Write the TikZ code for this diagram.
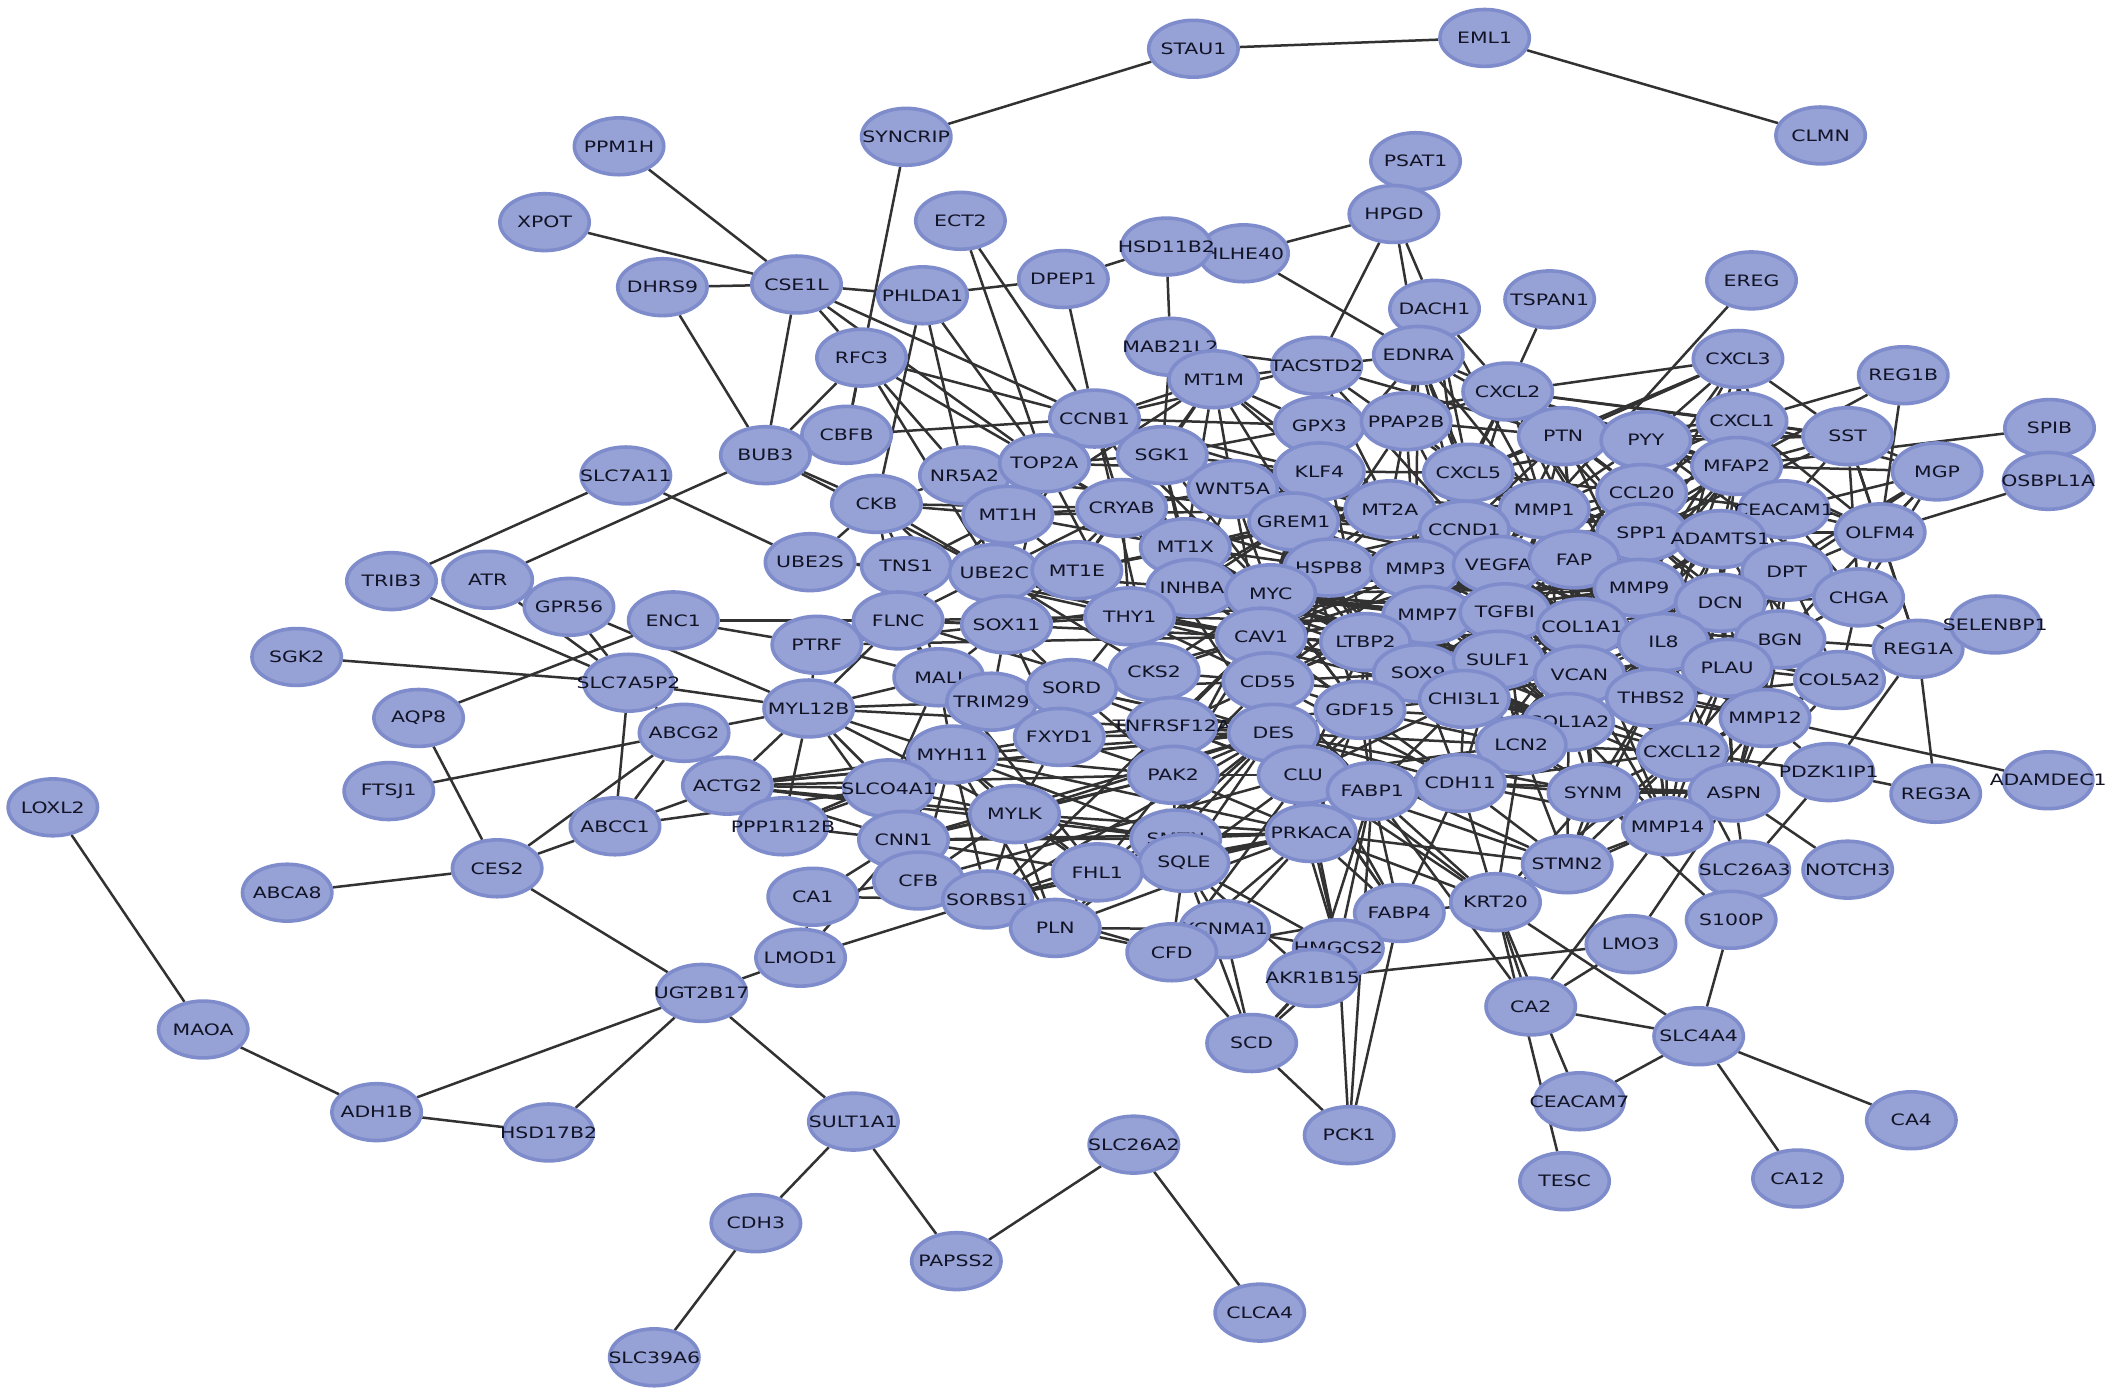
\documentclass[tikz,border=0pt]{standalone}
\usepackage{fontspec}
\newfontfamily\genefont[FakeStretch=1.3]{DejaVu Sans}
\usetikzlibrary{shapes.geometric, backgrounds}
\definecolor{genefill}{RGB}{150,161,213}
\definecolor{generim}{RGB}{126,140,204}
\definecolor{genetext}{RGB}{18,20,38}
\definecolor{linkgray}{RGB}{50,50,50}

\begin{document}
\begin{tikzpicture}[x=0.02cm, y=-0.02cm,
  gene/.style={ellipse, draw=generim, fill=genefill, line width=1.5pt,
    minimum width=1.32cm, minimum height=0.84cm, inner sep=0pt,
    text=genetext, font={\genefont\fontsize{6.6}{7}\selectfont},
    execute at begin node={\hbox to 0pt\bgroup\hss},
    execute at end node={\hss\egroup}},
  link/.style={color=linkgray, line width=1.05pt}]
  \useasboundingbox (0,0) rectangle (1568,1030);

  % top
  \node[gene] (STAU1) at (881,36) {STAU1};
  \node[gene] (EML1) at (1096,28) {EML1};
  \node[gene] (CLMN) at (1344,100) {CLMN};
  \node[gene] (SYNCRIP) at (669,101) {SYNCRIP};
  \node[gene] (PPM1H) at (457,108) {PPM1H};
  \node[gene] (PSAT1) at (1045,119) {PSAT1};
  \node[gene] (XPOT) at (402,164) {XPOT};
  \node[gene] (ECT2) at (709,163) {ECT2};
  \node[gene] (HPGD) at (1029,158) {HPGD};
  \node[gene] (HLHE40) at (918,187) {HLHE40};
  \node[gene] (HSD11B2) at (861,182) {HSD11B2};
  \node[gene] (DPEP1) at (785,206) {DPEP1};
  \node[gene] (CSE1L) at (588,210) {CSE1L};
  \node[gene] (DHRS9) at (489,212) {DHRS9};
  \node[gene] (PHLDA1) at (681,218) {PHLDA1};
  \node[gene] (EREG) at (1293,207) {EREG};
  \node[gene] (TSPAN1) at (1144,221) {TSPAN1};
  \node[gene] (DACH1) at (1059,228) {DACH1};
  \node[gene] (RFC3) at (636,264) {RFC3};
  \node[gene] (MAB21L2) at (864,256) {MAB21L2};
  \node[gene] (EDNRA) at (1047,262) {EDNRA};
  \node[gene] (TACSTD2) at (972,270) {TACSTD2};
  \node[gene] (CXCL3) at (1283,265) {CXCL3};
  \node[gene] (REG1B) at (1405,277) {REG1B};
  \node[gene] (MT1M) at (896,280) {MT1M};
  \node[gene] (CXCL2) at (1113,289) {CXCL2};
  \node[gene] (CCNB1) at (808,309) {CCNB1};
  \node[gene] (GPX3) at (974,314) {GPX3};
  \node[gene] (PPAP2B) at (1038,311) {PPAP2B};
  \node[gene] (CXCL1) at (1286,311) {CXCL1};
  \node[gene] (PTN) at (1154,322) {PTN};
  \node[gene] (PYY) at (1215,325) {PYY};
  \node[gene] (SST) at (1364,322) {SST};
  \node[gene] (SPIB) at (1513,316) {SPIB};
  \node[gene] (CBFB) at (625,321) {CBFB};
  \node[gene] (BUB3) at (565,336) {BUB3};
  \node[gene] (SGK1) at (858,336) {SGK1};
  \node[gene] (NR5A2) at (712,351) {NR5A2};
  \node[gene] (TOP2A) at (771,342) {TOP2A};
  \node[gene] (KLF4) at (974,348) {KLF4};
  \node[gene] (CXCL5) at (1084,349) {CXCL5};
  \node[gene] (MFAP2) at (1282,344) {MFAP2};
  \node[gene] (MGP) at (1430,348) {MGP};
  \node[gene] (OSBPL1A) at (1512,355) {OSBPL1A};
  \node[gene] (SLC7A11) at (462,351) {SLC7A11};
  \node[gene] (CKB) at (647,372) {CKB};
  \node[gene] (MT1H) at (744,380) {MT1H};
  \node[gene] (CRYAB) at (828,375) {CRYAB};
  \node[gene] (WNT5A) at (910,361) {WNT5A};
  \node[gene] (GREM1) at (955,385) {GREM1};
  \node[gene] (MT2A) at (1026,376) {MT2A};
  \node[gene] (CCL20) at (1212,364) {CCL20};
  \node[gene] (MMP1) at (1140,376) {MMP1};
  \node[gene] (CEACAM1) at (1317,376) {CEACAM1};
  \node[gene] (CCND1) at (1081,391) {CCND1};
  \node[gene] (SPP1) at (1212,393) {SPP1};
  \node[gene] (ADAMTS1) at (1270,398) {ADAMTS1};
  \node[gene] (OLFM4) at (1388,393) {OLFM4};

  % middle
  \node[gene] (UBE2S) at (598,415) {UBE2S};
  \node[gene] (TNS1) at (669,418) {TNS1};
  \node[gene] (UBE2C) at (734,423) {UBE2C};
  \node[gene] (MT1E) at (795,421) {MT1E};
  \node[gene] (MT1X) at (875,404) {MT1X};
  \node[gene] (HSPB8) at (981,419) {HSPB8};
  \node[gene] (MMP3) at (1045,420) {MMP3};
  \node[gene] (VEGFA) at (1106,417) {VEGFA};
  \node[gene] (FAP) at (1162,413) {FAP};
  \node[gene] (DPT) at (1319,422) {DPT};
  \node[gene] (MMP9) at (1210,434) {MMP9};
  \node[gene] (DCN) at (1270,445) {DCN};
  \node[gene] (CHGA) at (1372,441) {CHGA};
  \node[gene] (TRIB3) at (289,429) {TRIB3};
  \node[gene] (ATR) at (360,428) {ATR};
  \node[gene] (GPR56) at (420,448) {GPR56};
  \node[gene] (ENC1) at (497,458) {ENC1};
  \node[gene] (INHBA) at (880,434) {INHBA};
  \node[gene] (MYC) at (938,438) {MYC};
  \node[gene] (MMP7) at (1054,454) {MMP7};
  \node[gene] (TGFBI) at (1111,452) {TGFBI};
  \node[gene] (COL1A1) at (1168,463) {COL1A1};
  \node[gene] (IL8) at (1228,474) {IL8};
  \node[gene] (BGN) at (1314,472) {BGN};
  \node[gene] (FLNC) at (663,458) {FLNC};
  \node[gene] (SOX11) at (743,461) {SOX11};
  \node[gene] (THY1) at (834,455) {THY1};
  \node[gene] (CAV1) at (931,470) {CAV1};
  \node[gene] (LTBP2) at (1008,474) {LTBP2};
  \node[gene] (PTRF) at (603,476) {PTRF};
  \node[gene] (REG1A) at (1416,479) {REG1A};
  \node[gene] (SELENBP1) at (1473,461) {SELENBP1};
  \node[gene] (SGK2) at (219,485) {SGK2};
  \node[gene] (SLC7A5P2) at (464,504) {SLC7A5P2};
  \node[gene] (MALI) at (693,500) {MALI};
  \node[gene] (CKS2) at (852,496) {CKS2};
  \node[gene] (CD55) at (936,503) {CD55};
  \node[gene] (SOX9) at (1047,497) {SOX9};
  \node[gene] (SULF1) at (1106,487) {SULF1};
  \node[gene] (VCAN) at (1166,498) {VCAN};
  \node[gene] (PLAU) at (1275,493) {PLAU};
  \node[gene] (COL5A2) at (1358,502) {COL5A2};
  \node[gene] (TRIM29) at (732,518) {TRIM29};
  \node[gene] (SORD) at (791,508) {SORD};
  \node[gene] (AQP8) at (309,530) {AQP8};
  \node[gene] (ABCG2) at (505,541) {ABCG2};
  \node[gene] (MYL12B) at (597,523) {MYL12B};
  \node[gene] (GDF15) at (1004,524) {GDF15};
  \node[gene] (CHI3L1) at (1081,516) {CHI3L1};
  \node[gene] (THBS2) at (1219,515) {THBS2};
  \node[gene] (MMP12) at (1303,530) {MMP12};
  \node[gene] (TNFRSF12A) at (865,536) {TNFRSF12A};
  \node[gene] (DES) at (940,541) {DES};
  \node[gene] (FXYD1) at (782,544) {FXYD1};
  \node[gene] (COL1A2) at (1158,533) {COL1A2};
  \node[gene] (LCN2) at (1123,550) {LCN2};
  \node[gene] (CXCL12) at (1242,555) {CXCL12};
  \node[gene] (MYH11) at (703,557) {MYH11};
  \node[gene] (ACTG2) at (537,580) {ACTG2};
  \node[gene] (SLCO4A1) at (656,582) {SLCO4A1};
  \node[gene] (PAK2) at (866,572) {PAK2};
  \node[gene] (CLU) at (962,572) {CLU};
  \node[gene] (FABP1) at (1013,584) {FABP1};
  \node[gene] (CDH11) at (1078,578) {CDH11};
  \node[gene] (SYNM) at (1176,585) {SYNM};
  \node[gene] (ASPN) at (1280,585) {ASPN};
  \node[gene] (PDZK1IP1) at (1350,570) {PDZK1IP1};
  \node[gene] (REG3A) at (1429,586) {REG3A};
  \node[gene] (ADAMDEC1) at (1512,576) {ADAMDEC1};
  \node[gene] (FTSJ1) at (287,584) {FTSJ1};
  \node[gene] (LOXL2) at (39,596) {LOXL2};
  \node[gene] (ABCC1) at (454,610) {ABCC1};
  \node[gene] (PPP1R12B) at (578,610) {PPP1R12B};
  \node[gene] (MYLK) at (749,601) {MYLK};
  \node[gene] (CNN1) at (667,620) {CNN1};
  \node[gene] (SMTN) at (868,619) {SMTN};
  \node[gene] (SQLE) at (874,637) {SQLE};
  \node[gene] (PRKACA) at (968,615) {PRKACA};
  \node[gene] (MMP14) at (1231,610) {MMP14};
  \node[gene] (STMN2) at (1157,638) {STMN2};
  \node[gene] (FHL1) at (810,644) {FHL1};
  \node[gene] (CES2) at (367,641) {CES2};
  \node[gene] (ABCA8) at (212,659) {ABCA8};
  \node[gene] (CA1) at (600,662) {CA1};
  \node[gene] (CFB) at (678,650) {CFB};
  \node[gene] (SORBS1) at (729,664) {SORBS1};
  \node[gene] (SLC26A3) at (1288,642) {SLC26A3};
  \node[gene] (NOTCH3) at (1364,642) {NOTCH3};

  % bottom
  \node[gene] (FABP4) at (1033,674) {FABP4};
  \node[gene] (KRT20) at (1104,666) {KRT20};
  \node[gene] (S100P) at (1278,679) {S100P};
  \node[gene] (PLN) at (779,685) {PLN};
  \node[gene] (KCNMA1) at (904,686) {KCNMA1};
  \node[gene] (CFD) at (865,703) {CFD};
  \node[gene] (HMGCS2) at (988,700) {HMGCS2};
  \node[gene] (AKR1B15) at (969,722) {AKR1B15};
  \node[gene] (LMO3) at (1204,697) {LMO3};
  \node[gene] (LMOD1) at (591,707) {LMOD1};
  \node[gene] (UGT2B17) at (518,733) {UGT2B17};
  \node[gene] (CA2) at (1130,743) {CA2};
  \node[gene] (SLC4A4) at (1254,765) {SLC4A4};
  \node[gene] (MAOA) at (150,760) {MAOA};
  \node[gene] (SCD) at (924,770) {SCD};
  \node[gene] (ADH1B) at (278,821) {ADH1B};
  \node[gene] (HSD17B2) at (405,836) {HSD17B2};
  \node[gene] (SULT1A1) at (630,828) {SULT1A1};
  \node[gene] (CEACAM7) at (1166,813) {CEACAM7};
  \node[gene] (CA4) at (1411,827) {CA4};
  \node[gene] (PCK1) at (996,838) {PCK1};
  \node[gene] (SLC26A2) at (837,845) {SLC26A2};
  \node[gene] (CA12) at (1327,870) {CA12};
  \node[gene] (TESC) at (1155,872) {TESC};
  \node[gene] (CDH3) at (558,903) {CDH3};
  \node[gene] (PAPSS2) at (706,931) {PAPSS2};
  \node[gene] (CLCA4) at (930,969) {CLCA4};
  \node[gene] (SLC39A6) at (483,1002) {SLC39A6};

  \begin{scope}[on background layer]
    \fill[white] (0,0) rectangle (1568,1030);

    % outer chains
    \draw[link] (STAU1) edge (EML1) edge (SYNCRIP);
    \draw[link] (EML1) edge (CLMN);
    \draw[link] (SYNCRIP) edge (CBFB);
    \draw[link] (CSE1L) edge (PPM1H) edge (XPOT) edge (DHRS9) edge (PHLDA1) edge (BUB3) edge (RFC3) edge (CCNB1) edge (TOP2A);
    \draw[link] (DHRS9) edge (BUB3);
    \draw[link] (DPEP1) edge (PHLDA1) edge (HSD11B2) edge (CCNB1);
    \draw[link] (HLHE40) edge (HPGD) edge (EDNRA) edge (HSD11B2);
    \draw[link] (MAB21L2) edge (HSD11B2) edge (SGK1) edge (TACSTD2);
    \draw[link] (HPGD) edge (PSAT1) edge (TACSTD2) edge (DACH1) edge (EDNRA);
    \draw[link] (ECT2) edge (TOP2A) edge (CCNB1);
    \draw[link] (PHLDA1) edge (CKB) edge (TOP2A) edge (NR5A2);
    \draw[link] (CXCL2) edge (TSPAN1) edge (CXCL3);
    \draw[link] (EREG) edge (MMP1);
    \draw[link] (REG1B) edge (CXCL1) edge (MFAP2) edge (OLFM4);
    \draw[link] (SPIB) edge (MFAP2);
    \draw[link] (OLFM4) edge (OSBPL1A) edge (REG1A);
    \draw[link] (SST) edge (CXCL3) edge (CHGA);
    \draw[link] (REG1A) edge (BGN) edge (PDZK1IP1) edge (REG3A) edge (COL5A2);
    \draw[link] (MMP12) edge (ADAMDEC1);
    \draw[link] (PDZK1IP1) edge (CXCL12) edge (REG3A) edge (SLC26A3);
    \draw[link] (ASPN) edge (NOTCH3) edge (SLC26A3) edge (LMO3);
    \draw[link] (S100P) edge (SLC26A3) edge (SYNM) edge (SLC4A4);
    \draw[link] (LMO3) edge (CA2) edge (AKR1B15);
    \draw[link] (KRT20) edge (CA2) edge (TESC) edge (CEACAM7) edge (SLC4A4);
    \draw[link] (SLC4A4) edge (CA2) edge (CEACAM7) edge (CA4) edge (CA12);
    \draw[link] (LMOD1) edge (UGT2B17) edge (CA1) edge (CNN1) edge (SORBS1);
    \draw[link] (UGT2B17) edge (SULT1A1) edge (CES2) edge (ADH1B) edge (HSD17B2);
    \draw[link] (SULT1A1) edge (CDH3) edge (PAPSS2);
    \draw[link] (PAPSS2) edge (SLC26A2);
    \draw[link] (SLC26A2) edge (CLCA4);
    \draw[link] (CDH3) edge (SLC39A6);
    \draw[link] (PLN) edge (CFD);
    \draw[link] (KCNMA1) edge (HMGCS2) edge (SCD);
    \draw[link] (SCD) edge (AKR1B15) edge (HMGCS2) edge (PCK1);
    \draw[link] (HMGCS2) edge (PCK1);
    \draw[link] (SLC7A11) edge (TRIB3) edge (UBE2S);
    \draw[link] (ATR) edge (BUB3) edge (SLC7A5P2);
    \draw[link] (GPR56) edge (SLC7A5P2) edge (MYL12B);
    \draw[link] (TRIB3) edge (SLC7A5P2);
    \draw[link] (ENC1) edge (AQP8) edge (FLNC) edge (PTRF);
    \draw[link] (SLC7A5P2) edge (SGK2) edge (MYL12B) edge (ABCC1) edge (ABCG2);
    \draw[link] (CES2) edge (AQP8) edge (ABCA8) edge (ABCC1) edge (ABCG2);
    \draw[link] (ABCG2) edge (FTSJ1) edge (ABCC1) edge (ACTG2) edge (MYL12B);
    \draw[link] (ABCC1) edge (ACTG2) edge (SLCO4A1);
    \draw[link] (MAOA) edge (LOXL2) edge (ADH1B);
    \draw[link] (ADH1B) edge (HSD17B2);
    \draw[link] (BUB3) edge (RFC3) edge (CKB) edge (CBFB) edge (UBE2C);
    \draw[link] (RFC3) edge (CBFB) edge (CCNB1) edge (TOP2A) edge (NR5A2) edge (UBE2C);
    \draw[link] (CBFB) edge (CCNB1);

    % cell cycle and metallothioneins
    \draw[link] (CCNB1) edge (TOP2A) edge (UBE2C) edge (CKS2) edge (SGK1) edge (MT1M) edge (MYC) edge (CCND1) edge (KLF4) edge (GPX3) edge (CRYAB) edge (MT1X) edge (TACSTD2) edge (NR5A2);
    \draw[link] (TOP2A) edge (UBE2C) edge (CKS2) edge (NR5A2) edge (MT1H) edge (CRYAB) edge (MYC) edge (SOX11) edge (SGK1) edge (MT1X) edge (KLF4);
    \draw[link] (UBE2C) edge (CKS2) edge (UBE2S) edge (TNS1) edge (CKB) edge (MT1E) edge (SOX11) edge (MYC) edge (THY1);
    \draw[link] (CKS2) edge (SORD) edge (MYC) edge (CAV1) edge (THY1) edge (CD55) edge (TNFRSF12A);
    \draw[link] (NR5A2) edge (CKB) edge (MT1H) edge (CCND1) edge (SOX11);
    \draw[link] (CKB) edge (TNS1) edge (MT1H) edge (FLNC) edge (CRYAB) edge (SOX11) edge (UBE2S);
    \draw[link] (SGK1) edge (WNT5A) edge (KLF4) edge (MT1X) edge (MT1M) edge (GPX3) edge (MT2A) edge (CRYAB) edge (INHBA) edge (MT1E) edge (MYC) edge (GREM1) edge (HSPB8);
    \draw[link] (MT1M) edge (MT2A) edge (MT1X) edge (MT1E) edge (GPX3) edge (KLF4) edge (TACSTD2) edge (WNT5A) edge (HSPB8) edge (MT1H);
    \draw[link] (MT1H) edge (MT1E) edge (MT1X) edge (MT2A) edge (CRYAB) edge (FLNC) edge (SOX11) edge (TNS1);
    \draw[link] (MT1E) edge (MT1X) edge (MT2A) edge (THY1) edge (CRYAB);
    \draw[link] (MT1X) edge (MT2A) edge (INHBA) edge (MYC) edge (THY1) edge (HSPB8) edge (GREM1) edge (CAV1);
    \draw[link] (CRYAB) edge (HSPB8) edge (FLNC) edge (MYC) edge (CAV1) edge (THY1) edge (SOX11) edge (DES) edge (WNT5A) edge (INHBA);
    \draw[link] (WNT5A) edge (GREM1) edge (MYC) edge (CAV1) edge (THY1) edge (CCND1) edge (SOX9) edge (MMP7) edge (KLF4) edge (INHBA) edge (LTBP2) edge (MMP1) edge (VEGFA);
    \draw[link] (KLF4) edge (MYC) edge (CCND1) edge (CAV1) edge (GPX3) edge (MT2A) edge (CD55) edge (GREM1) edge (CXCL5) edge (EDNRA);
    \draw[link] (GREM1) edge (INHBA) edge (THY1) edge (LTBP2) edge (CCND1) edge (MMP3) edge (GDF15) edge (VEGFA) edge (SULF1) edge (MYC) edge (HSPB8);
    \draw[link] (GPX3) edge (PPAP2B) edge (MT2A) edge (HSPB8) edge (CAV1) edge (LTBP2) edge (TACSTD2) edge (CXCL2);
    \draw[link] (PPAP2B) edge (EDNRA) edge (CXCL2) edge (MT2A) edge (CAV1) edge (CXCL5) edge (PTN) edge (MMP3) edge (CCND1);
    \draw[link] (EDNRA) edge (TACSTD2) edge (CXCL2) edge (PTN) edge (CCND1) edge (VEGFA) edge (MMP1) edge (DACH1) edge (CXCL5) edge (MMP3);
    \draw[link] (TACSTD2) edge (CXCL5) edge (PTN) edge (MT2A) edge (KLF4) edge (CCND1);
    \draw[link] (DACH1) edge (CXCL2) edge (CXCL5) edge (PPAP2B) edge (CCND1) edge (MMP1);
    \draw[link] (MT2A) edge (CCND1) edge (VEGFA) edge (MYC) edge (HSPB8) edge (GREM1) edge (MMP3) edge (CXCL5);

    % chemokines
    \draw[link] (CXCL2) edge (CXCL5) edge (CXCL1) edge (PTN) edge (PYY) edge (CCL20) edge (MMP1) edge (IL8) edge (CXCL12) edge (SST) edge (MFAP2) edge (SPP1) edge (CCND1) edge (MMP3) edge (MMP9);
    \draw[link] (CXCL3) edge (CXCL1) edge (PYY) edge (PTN) edge (MFAP2) edge (CCL20) edge (IL8) edge (CXCL5) edge (SPP1) edge (CEACAM1);
    \draw[link] (CXCL1) edge (PYY) edge (CCL20) edge (IL8) edge (SST) edge (MFAP2) edge (CXCL5) edge (PTN) edge (SPP1) edge (MMP9) edge (CEACAM1) edge (MGP) edge (OLFM4) edge (MMP1);
    \draw[link] (PYY) edge (SST) edge (PTN) edge (CCL20) edge (MFAP2) edge (CHGA) edge (CEACAM1) edge (MMP1) edge (SPP1) edge (FAP) edge (CXCL5) edge (OLFM4);
    \draw[link] (SST) edge (MFAP2) edge (CEACAM1) edge (PTN) edge (MGP) edge (OLFM4) edge (REG1A) edge (SPP1);
    \draw[link] (PTN) edge (CCL20) edge (MMP1) edge (CXCL5) edge (MFAP2) edge (FAP) edge (SPP1) edge (CCND1) edge (VEGFA) edge (MMP9) edge (COL1A1);
    \draw[link] (CXCL5) edge (CCL20) edge (MMP1) edge (IL8) edge (CCND1) edge (SPP1) edge (MMP3) edge (VEGFA) edge (MMP7) edge (FAP) edge (MMP9);
    \draw[link] (MFAP2) edge (CEACAM1) edge (CCL20) edge (SPP1) edge (ADAMTS1) edge (DCN) edge (DPT) edge (BGN) edge (MGP) edge (OLFM4) edge (COL1A1) edge (FAP) edge (MMP9);
    \draw[link] (CCL20) edge (MMP1) edge (SPP1) edge (IL8) edge (MMP9) edge (FAP) edge (ADAMTS1) edge (CEACAM1) edge (VEGFA) edge (MMP3);
    \draw[link] (CEACAM1) edge (OLFM4) edge (MGP) edge (SPP1) edge (ADAMTS1) edge (CHGA) edge (DPT) edge (DCN) edge (CCND1) edge (MMP9);
    \draw[link] (OLFM4) edge (CHGA) edge (MGP) edge (DPT) edge (SPP1);
    \draw[link] (MGP) edge (DPT) edge (BGN) edge (CHGA) edge (DCN);

    % extracellular matrix
    \draw[link] (MMP1) edge (MMP3) edge (MMP9) edge (MMP7) edge (VEGFA) edge (SPP1) edge (FAP) edge (IL8) edge (CCND1) edge (COL1A1) edge (TGFBI) edge (SULF1) edge (VCAN) edge (PLAU) edge (MMP12) edge (THBS2) edge (CXCL12) edge (COL1A2);
    \draw[link] (CCND1) edge (VEGFA) edge (MMP3) edge (MMP7) edge (MYC) edge (FAP) edge (TGFBI) edge (MMP9) edge (IL8) edge (SPP1) edge (COL1A1) edge (CAV1) edge (SOX9) edge (LTBP2) edge (CD55) edge (HSPB8) edge (GDF15) edge (SULF1);
    \draw[link] (SPP1) edge (ADAMTS1) edge (MMP9) edge (FAP) edge (IL8) edge (DCN) edge (COL1A1) edge (VEGFA) edge (MMP3) edge (DPT) edge (BGN) edge (PLAU) edge (VCAN) edge (THBS2) edge (MMP7) edge (TGFBI) edge (CXCL12) edge (MMP12) edge (COL1A2) edge (CHGA);
    \draw[link] (ADAMTS1) edge (DPT) edge (DCN) edge (MMP9) edge (BGN) edge (PLAU) edge (COL1A1) edge (IL8) edge (FAP) edge (VCAN) edge (THBS2) edge (COL5A2) edge (CHGA);
    \draw[link] (DPT) edge (DCN) edge (BGN) edge (CHGA) edge (COL5A2) edge (COL1A1) edge (MMP9) edge (PLAU) edge (REG1A) edge (IL8) edge (ASPN);
    \draw[link] (CHGA) edge (BGN) edge (COL5A2) edge (DCN) edge (PLAU);
    \draw[link] (DCN) edge (BGN) edge (MMP9) edge (IL8) edge (COL1A1) edge (PLAU) edge (COL5A2) edge (VCAN) edge (THBS2) edge (COL1A2) edge (FAP) edge (TGFBI) edge (ASPN) edge (MMP12) edge (CXCL12);
    \draw[link] (BGN) edge (PLAU) edge (COL5A2) edge (IL8) edge (COL1A1) edge (MMP9) edge (VCAN) edge (THBS2) edge (MMP12) edge (ASPN) edge (CXCL12) edge (COL1A2) edge (MMP14);
    \draw[link] (MMP9) edge (IL8) edge (FAP) edge (COL1A1) edge (VEGFA) edge (MMP3) edge (MMP7) edge (TGFBI) edge (SULF1) edge (VCAN) edge (THBS2) edge (PLAU) edge (CXCL12) edge (MMP12) edge (COL1A2) edge (LCN2) edge (MMP14) edge (CHI3L1) edge (SOX9) edge (CDH11) edge (GDF15) edge (MYC) edge (CAV1) edge (INHBA) edge (THY1);
    \draw[link] (FAP) edge (VEGFA) edge (MMP3) edge (COL1A1) edge (IL8) edge (TGFBI) edge (SULF1) edge (VCAN) edge (THBS2) edge (MMP7) edge (COL1A2) edge (PLAU) edge (CXCL12) edge (INHBA);
    \draw[link] (VEGFA) edge (MMP3) edge (MMP7) edge (TGFBI) edge (COL1A1) edge (IL8) edge (SULF1) edge (VCAN) edge (CHI3L1) edge (SOX9) edge (MYC) edge (CAV1) edge (HSPB8) edge (LTBP2) edge (THBS2) edge (PLAU) edge (CXCL12) edge (COL1A2) edge (GDF15) edge (CD55);
    \draw[link] (MMP3) edge (MMP7) edge (TGFBI) edge (COL1A1) edge (IL8) edge (HSPB8) edge (LTBP2) edge (SOX9) edge (SULF1) edge (CHI3L1) edge (MYC) edge (CAV1) edge (VCAN) edge (COL1A2) edge (PLAU);
    \draw[link] (MMP7) edge (TGFBI) edge (SOX9) edge (CHI3L1) edge (LTBP2) edge (SULF1) edge (COL1A1) edge (IL8) edge (VCAN) edge (GDF15) edge (CD55) edge (CAV1) edge (LCN2) edge (COL1A2) edge (MYC);
    \draw[link] (TGFBI) edge (COL1A1) edge (SULF1) edge (VCAN) edge (IL8) edge (CHI3L1) edge (SOX9) edge (COL1A2) edge (THBS2) edge (LTBP2) edge (PLAU) edge (LCN2) edge (CXCL12) edge (GDF15);
    \draw[link] (COL1A1) edge (IL8) edge (VCAN) edge (SULF1) edge (COL1A2) edge (THBS2) edge (PLAU) edge (CXCL12) edge (CHI3L1) edge (SOX9) edge (LCN2) edge (COL5A2) edge (ASPN) edge (MMP14) edge (MMP12) edge (SYNM) edge (CDH11) edge (INHBA) edge (THY1) edge (LTBP2);
    \draw[link] (IL8) edge (VCAN) edge (PLAU) edge (THBS2) edge (COL1A2) edge (CXCL12) edge (SULF1) edge (MMP12) edge (ASPN) edge (MMP14) edge (LCN2) edge (CHI3L1) edge (COL5A2);
    \draw[link] (SULF1) edge (VCAN) edge (COL1A2) edge (SOX9) edge (CHI3L1) edge (THBS2) edge (LCN2) edge (CDH11) edge (INHBA) edge (GDF15) edge (LTBP2);
    \draw[link] (VCAN) edge (COL1A2) edge (THBS2) edge (PLAU) edge (CXCL12) edge (LCN2) edge (CHI3L1) edge (SOX9) edge (ASPN) edge (MMP14) edge (SYNM) edge (CDH11) edge (INHBA) edge (MMP12);
    \draw[link] (PLAU) edge (THBS2) edge (COL5A2) edge (MMP12) edge (CXCL12) edge (ASPN) edge (COL1A2) edge (MMP14);
    \draw[link] (THBS2) edge (COL1A2) edge (CXCL12) edge (MMP12) edge (ASPN) edge (MMP14) edge (LCN2) edge (SYNM) edge (COL5A2) edge (CDH11) edge (STMN2);
    \draw[link] (COL5A2) edge (MMP12) edge (ASPN) edge (CXCL12);
    \draw[link] (MMP12) edge (CXCL12) edge (ASPN) edge (MMP14) edge (PDZK1IP1);
    \draw[link] (CXCL12) edge (ASPN) edge (MMP14) edge (SYNM) edge (LCN2) edge (COL1A2) edge (CDH11) edge (STMN2) edge (KRT20) edge (SLC26A3);
    \draw[link] (COL1A2) edge (LCN2) edge (CHI3L1) edge (CDH11) edge (SYNM) edge (MMP14) edge (ASPN) edge (STMN2) edge (SOX9) edge (GDF15);
    \draw[link] (LCN2) edge (CHI3L1) edge (CDH11) edge (SYNM) edge (MMP14) edge (STMN2) edge (SOX9) edge (GDF15) edge (KRT20) edge (FABP1) edge (CLU) edge (DES);
    \draw[link] (CHI3L1) edge (SOX9) edge (GDF15) edge (CDH11) edge (LTBP2) edge (CD55) edge (CLU) edge (FABP1);
    \draw[link] (SOX9) edge (GDF15) edge (LTBP2) edge (CDH11) edge (MYC) edge (CAV1) edge (CD55) edge (CLU);
    \draw[link] (GDF15) edge (CD55) edge (CLU) edge (LTBP2) edge (FABP1) edge (CAV1) edge (DES) edge (MYC) edge (CDH11) edge (PRKACA) edge (TNFRSF12A);
    \draw[link] (CDH11) edge (SYNM) edge (STMN2) edge (FABP1) edge (KRT20) edge (FABP4) edge (CLU) edge (ASPN) edge (MMP14);
    \draw[link] (SYNM) edge (STMN2) edge (MMP14) edge (DES) edge (KRT20) edge (ASPN);
    \draw[link] (MMP14) edge (STMN2) edge (ASPN) edge (KRT20) edge (CA2);
    \draw[link] (STMN2) edge (KRT20) edge (CLU) edge (DES) edge (PRKACA);
    \draw[link] (KRT20) edge (FABP1) edge (FABP4) edge (CLU) edge (DES);

    % cytoskeleton and muscle
    \draw[link] (INHBA) edge (THY1) edge (MYC) edge (CAV1) edge (THBS2) edge (TGFBI) edge (MMP1) edge (MMP3) edge (COL1A2) edge (VCAN) edge (LTBP2) edge (GDF15) edge (IL8);
    \draw[link] (THY1) edge (MYC) edge (CAV1) edge (CD55) edge (SORD) edge (SOX11) edge (VCAN) edge (COL1A2) edge (TNFRSF12A);
    \draw[link] (MYC) edge (CAV1) edge (CD55) edge (TGFBI) edge (IL8) edge (HSPB8) edge (GDF15) edge (CXCL12) edge (SOX11) edge (LTBP2) edge (PAK2);
    \draw[link] (CAV1) edge (CD55) edge (LTBP2) edge (DES) edge (TNFRSF12A) edge (PAK2) edge (PRKACA) edge (CLU) edge (SORD) edge (COL1A2) edge (FLNC) edge (TNS1) edge (PTRF) edge (SORBS1);
    \draw[link] (CD55) edge (LTBP2) edge (PAK2) edge (CLU) edge (DES) edge (TNFRSF12A) edge (SORD) edge (FABP1) edge (CDH11) edge (FABP4);
    \draw[link] (HSPB8) edge (LTBP2) edge (DES) edge (CAV1) edge (MYC);
    \draw[link] (LTBP2) edge (CLU) edge (FABP1) edge (COL1A2);
    \draw[link] (SOX11) edge (SORD) edge (FLNC) edge (MALI) edge (TRIM29) edge (FXYD1) edge (PTRF);
    \draw[link] (SORD) edge (MALI) edge (TRIM29) edge (FXYD1) edge (PAK2) edge (DES) edge (CLU);
    \draw[link] (MALI) edge (TRIM29) edge (FLNC) edge (MYH11) edge (TNS1) edge (SLCO4A1) edge (PTRF);
    \draw[link] (TRIM29) edge (FXYD1) edge (MYH11) edge (CKS2);
    \draw[link] (FXYD1) edge (MYH11) edge (DES) edge (PAK2) edge (TNFRSF12A) edge (MYLK);
    \draw[link] (TNFRSF12A) edge (DES) edge (PAK2) edge (CLU);
    \draw[link] (PAK2) edge (DES) edge (CLU) edge (PRKACA) edge (MYLK) edge (SMTN) edge (CNN1) edge (FHL1);
    \draw[link] (DES) edge (CLU) edge (FABP1) edge (PRKACA) edge (SMTN) edge (MYLK) edge (CNN1) edge (FLNC) edge (MYH11) edge (ACTG2) edge (FHL1) edge (PLN) edge (SORBS1) edge (SQLE) edge (HMGCS2) edge (FABP4) edge (CDH11) edge (SORD);
    \draw[link] (CLU) edge (FABP1) edge (PRKACA) edge (FABP4) edge (CFB) edge (CFD) edge (SQLE) edge (HMGCS2);
    \draw[link] (FABP1) edge (PRKACA) edge (FABP4) edge (HMGCS2) edge (AKR1B15) edge (CA2) edge (PCK1);
    \draw[link] (PRKACA) edge (PLN) edge (SMTN) edge (SQLE) edge (KCNMA1) edge (HMGCS2) edge (FABP4) edge (CNN1) edge (MYLK) edge (SORBS1) edge (KRT20) edge (FHL1) edge (CFD);
    \draw[link] (FLNC) edge (TNS1) edge (MT1H) edge (MYL12B) edge (THY1) edge (PTRF) edge (FHL1);
    \draw[link] (TNS1) edge (UBE2S) edge (THY1);
    \draw[link] (MYL12B) edge (MALI) edge (TRIM29) edge (MYH11) edge (SLCO4A1) edge (CNN1) edge (PPP1R12B) edge (ACTG2) edge (MYLK) edge (DES) edge (PTRF);
    \draw[link] (ACTG2) edge (MYH11) edge (CNN1) edge (DES) edge (MYLK) edge (SLCO4A1) edge (SMTN) edge (PAK2) edge (PPP1R12B);
    \draw[link] (MYH11) edge (CNN1) edge (MYLK) edge (SMTN) edge (SORBS1) edge (PLN) edge (PRKACA) edge (PAK2) edge (SLCO4A1) edge (PPP1R12B) edge (FHL1) edge (CFB);
    \draw[link] (SLCO4A1) edge (CNN1) edge (PPP1R12B) edge (MYLK);
    \draw[link] (CNN1) edge (SMTN) edge (MYLK) edge (SORBS1) edge (CFB) edge (CA1) edge (FHL1) edge (PLN) edge (PPP1R12B);
    \draw[link] (MYLK) edge (SMTN) edge (SORBS1) edge (FHL1) edge (CFB) edge (PLN);
    \draw[link] (SMTN) edge (FHL1) edge (SQLE) edge (SORBS1) edge (PLN);
    \draw[link] (SORBS1) edge (PLN) edge (FHL1) edge (CFB) edge (CA1);
    \draw[link] (CFB) edge (CFD) edge (CA1);
    \draw[link] (CFD) edge (FABP4) edge (SCD) edge (KCNMA1) edge (SQLE);
    \draw[link] (FABP4) edge (PCK1) edge (HMGCS2) edge (SCD) edge (AKR1B15);
    \draw[link] (HMGCS2) edge (AKR1B15) edge (SQLE);
    \draw[link] (SQLE) edge (SCD) edge (FHL1) edge (KCNMA1) edge (AKR1B15);
    \draw[link] (KCNMA1) edge (PLN);
    \draw[link] (FHL1) edge (PLN);
  \end{scope}
\end{tikzpicture}
\end{document}
